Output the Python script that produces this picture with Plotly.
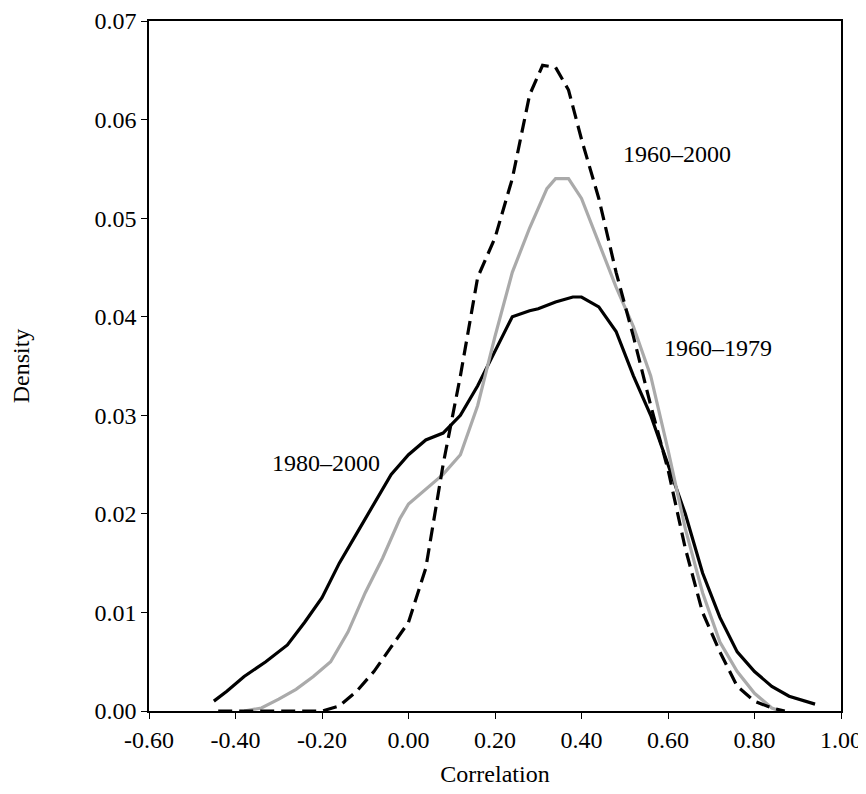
import plotly.graph_objects as go

x_8000 = [-0.45, -0.42, -0.38, -0.33, -0.28, -0.24, -0.20, -0.16, -0.12, -0.08, -0.04, 0.00, 0.04, 0.08, 0.12,
          0.16, 0.20, 0.24, 0.28, 0.30, 0.34, 0.38, 0.40, 0.44, 0.48, 0.52, 0.56, 0.60, 0.64, 0.68, 0.72,
          0.76, 0.80, 0.84, 0.88, 0.94]
y_8000 = [0.001, 0.002, 0.0035, 0.005, 0.0067, 0.009, 0.0115, 0.015, 0.018, 0.021, 0.024, 0.026, 0.0275, 0.0282,
          0.030, 0.033, 0.0365, 0.040, 0.0406, 0.0408, 0.0415, 0.042, 0.042, 0.041, 0.0385, 0.034, 0.030, 0.025,
          0.020, 0.014, 0.0095, 0.006, 0.004, 0.0025, 0.0015, 0.0007]

x_6079 = [-0.38, -0.34, -0.30, -0.26, -0.22, -0.18, -0.14, -0.10, -0.06, -0.02, 0.00, 0.04, 0.08, 0.12, 0.16,
          0.20, 0.24, 0.28, 0.32, 0.34, 0.37, 0.40, 0.44, 0.48, 0.52, 0.56, 0.60, 0.64, 0.68, 0.72, 0.76,
          0.80, 0.84, 0.86]
y_6079 = [0, 0.0003, 0.0012, 0.0022, 0.0035, 0.005, 0.008, 0.012, 0.0155, 0.0195, 0.021, 0.0225, 0.024, 0.026,
          0.031, 0.038, 0.0445, 0.049, 0.053, 0.054, 0.054, 0.052, 0.0475, 0.043, 0.039, 0.034, 0.0265, 0.0185,
          0.012, 0.007, 0.004, 0.0018, 0.0003, 0]

x_6000 = [-0.44, -0.20, -0.16, -0.12, -0.08, -0.04, 0.00, 0.04, 0.08, 0.12, 0.16, 0.20, 0.24, 0.28, 0.31,
          0.34, 0.37, 0.40, 0.44, 0.48, 0.52, 0.56, 0.60, 0.64, 0.68, 0.72, 0.76, 0.80, 0.84, 0.87]
y_6000 = [0, 0, 0.0005, 0.002, 0.004, 0.0065, 0.009, 0.0145, 0.025, 0.034, 0.044, 0.048, 0.054, 0.0625, 0.0655,
          0.0653, 0.063, 0.058, 0.052, 0.0445, 0.038, 0.031, 0.0245, 0.0165, 0.010, 0.006, 0.0025, 0.001,
          0.0003, 0]

x_ticks = [-0.6, -0.4, -0.2, 0.0, 0.2, 0.4, 0.6, 0.8, 1.0]
x_labels = ["-0.60", "-0.40", "-0.20", "0.00", "0.20", "0.40", "0.60", "0.80", "1.00"]

fig = go.Figure()
fig.add_trace(go.Scatter(x=x_8000, y=y_8000, mode="lines", line=dict(color="black", width=3.2)))
fig.add_trace(go.Scatter(x=x_6079, y=y_6079, mode="lines", line=dict(color="#aaaaaa", width=3.2)))
fig.add_trace(go.Scatter(x=x_6000, y=y_6000, mode="lines",
                         line=dict(color="black", width=3.2, dash="14px,7px")))

font = dict(family="Liberation Serif", size=24, color="black")
for txt, ax, ay in [("1960–2000", 0.62, 0.0565), ("1960–1979", 0.715, 0.0368), ("1980–2000", -0.19, 0.0252)]:
    fig.add_annotation(x=ax, y=ay, text=txt, showarrow=False, font=font)

axis = dict(showgrid=False, zeroline=False, showline=True, linecolor="black", linewidth=1.5, mirror=True,
            ticks="outside", ticklen=6, tickcolor="black", tickfont=font, automargin=False)
fig.update_xaxes(axis, range=[-0.6, 1.0], tickvals=x_ticks, ticktext=x_labels,
                 title=dict(text="Correlation", font=font, standoff=14))
fig.update_yaxes(axis, range=[0, 0.07], dtick=0.01, tickformat=".2f",
                 title=dict(text="Density", font=font, standoff=60))
fig.update_layout(width=866, height=794, showlegend=False, plot_bgcolor="white", paper_bgcolor="white",
                  margin=dict(l=141, r=33, t=13, b=91))
fig.write_html("out.html")
